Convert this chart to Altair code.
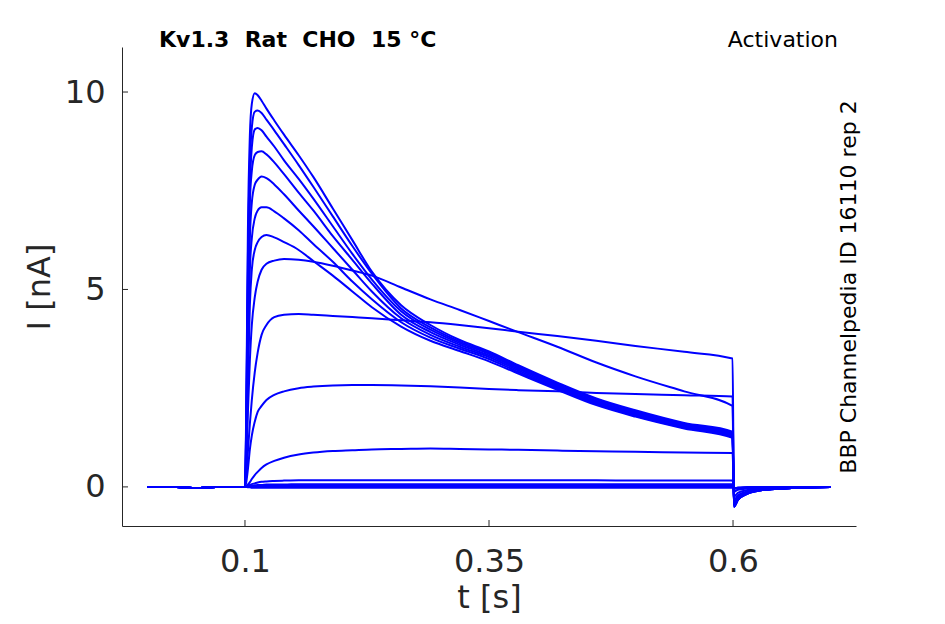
import altair as alt
import pandas as pd

# ---- data ----
t_s = [0.0, 0.03, 0.05, 0.07, 0.0995, 0.1, 0.1015, 0.103, 0.105, 0.107, 0.11,
       0.113, 0.117, 0.122, 0.13, 0.14, 0.155, 0.17, 0.19, 0.21, 0.23,
       0.26, 0.29, 0.32, 0.35, 0.38, 0.42, 0.46, 0.5, 0.55, 0.5995,
       0.601, 0.605, 0.615, 0.63, 0.66, 0.7]

pre = [0.0, 0.0, -0.03, 0.0, 0.0, 0.0]

trace01 = pre + [2.5, 6.5, 8.9, 9.7, 9.97, 9.92, 9.78, 9.58, 9.28, 8.92, 8.4, 7.85, 7.05, 6.25, 5.45,
                 4.6, 4.1, 3.72, 3.43, 3.08, 2.64, 2.24, 1.94, 1.62, 1.4, -0.5, -0.33, -0.17, -0.08, -0.03, 0.0]
trace02 = pre + [2.2, 5.8, 8.2, 9.1, 9.5, 9.53, 9.47, 9.3, 9.03, 8.68, 8.15, 7.6, 6.85, 6.1, 5.4,
                 4.52, 4.04, 3.68, 3.4, 3.05, 2.61, 2.21, 1.91, 1.6, 1.37, -0.5, -0.33, -0.17, -0.08, -0.03, 0.0]
trace03 = pre + [2.0, 5.3, 7.6, 8.6, 9.05, 9.09, 9.03, 8.87, 8.62, 8.27, 7.8, 7.3, 6.6, 5.9, 5.25,
                 4.45, 3.98, 3.64, 3.37, 3.02, 2.58, 2.18, 1.88, 1.57, 1.34, -0.5, -0.33, -0.17, -0.08, -0.03, 0.0]
trace04 = pre + [1.7, 4.6, 7.2, 8.0, 8.4, 8.48, 8.5, 8.42, 8.22, 7.92, 7.45, 7.0, 6.35, 5.75, 5.15,
                 4.36, 3.92, 3.6, 3.33, 2.99, 2.55, 2.15, 1.86, 1.55, 1.32, -0.48, -0.32, -0.16, -0.08, -0.03, 0.0]
trace05 = pre + [1.4, 3.9, 6.3, 7.2, 7.65, 7.78, 7.86, 7.82, 7.66, 7.41, 7.0, 6.6, 6.05, 5.5, 4.95,
                 4.27, 3.85, 3.55, 3.29, 2.95, 2.52, 2.12, 1.83, 1.52, 1.29, -0.45, -0.3, -0.15, -0.07, -0.03, 0.0]
trace06 = pre + [1.1, 3.2, 5.5, 6.3, 6.8, 7.0, 7.08, 7.08, 6.98, 6.8, 6.5, 6.15, 5.7, 5.2, 4.75,
                 4.17, 3.78, 3.5, 3.24, 2.91, 2.49, 2.1, 1.8, 1.5, 1.27, -0.43, -0.29, -0.14, -0.07, -0.03, 0.0]
trace07 = pre + [0.9, 2.6, 4.6, 5.5, 6.0, 6.2, 6.33, 6.38, 6.32, 6.2, 6.0, 5.72, 5.35, 4.95, 4.55,
                 4.06, 3.7, 3.44, 3.18, 2.87, 2.46, 2.07, 1.78, 1.48, 1.24, -0.42, -0.28, -0.14, -0.07, -0.03, 0.0]
trace08 = pre + [0.7, 1.9, 3.2, 4.1, 4.8, 5.2, 5.5, 5.65, 5.73, 5.77, 5.75, 5.7, 5.6, 5.48, 5.35,
                 5.05, 4.75, 4.48, 4.2, 3.92, 3.55, 3.15, 2.8, 2.42, 2.05, -0.38, -0.25, -0.13, -0.06, -0.02, 0.0]
trace09 = pre + [0.35, 0.9, 1.6, 2.2, 2.9, 3.4, 3.85, 4.1, 4.3, 4.36, 4.38, 4.36, 4.33, 4.3, 4.27,
                 4.22, 4.17, 4.1, 4.02, 3.93, 3.82, 3.7, 3.57, 3.42, 3.25, -0.33, -0.21, -0.11, -0.05, -0.02, 0.0]
trace10 = pre + [0.15, 0.45, 0.95, 1.3, 1.65, 1.9, 2.05, 2.2, 2.33, 2.42, 2.5, 2.54, 2.57, 2.58, 2.58,
                 2.57, 2.55, 2.52, 2.48, 2.45, 2.42, 2.38, 2.35, 2.32, 2.29, -0.24, -0.15, -0.08, -0.04, -0.01, 0.0]
trace11 = pre + [0.02, 0.06, 0.12, 0.2, 0.3, 0.38, 0.48, 0.57, 0.66, 0.74, 0.82, 0.87, 0.91, 0.93, 0.95,
                 0.96, 0.97, 0.96, 0.95, 0.94, 0.92, 0.9, 0.89, 0.87, 0.86, -0.12, -0.07, -0.04, -0.02, 0.0, 0.0]
trace12 = pre + [0.01, 0.03, 0.05, 0.07, 0.09, 0.11, 0.13, 0.14, 0.15, 0.16, 0.17, 0.17, 0.17, 0.17, 0.17,
                 0.17, 0.17, 0.17, 0.17, 0.17, 0.17, 0.17, 0.16, 0.16, 0.16, -0.05, -0.03, -0.01, 0.0, 0.0, 0.0]
trace13 = pre + [0.0, 0.01, 0.02, 0.03, 0.04, 0.05, 0.05, 0.06, 0.06, 0.06, 0.07, 0.07, 0.07, 0.07, 0.07,
                 0.07, 0.07, 0.07, 0.07, 0.07, 0.07, 0.07, 0.07, 0.07, 0.07, -0.04, -0.02, -0.01, 0.0, 0.0, 0.0]
trace14 = pre + [0.0, 0.0, 0.01, 0.01, 0.02, 0.02, 0.02, 0.02, 0.02, 0.02, 0.02, 0.02, 0.02, 0.02, 0.02,
                 0.02, 0.02, 0.02, 0.02, 0.02, 0.02, 0.02, 0.02, 0.02, 0.02, -0.03, -0.02, -0.01, 0.0, 0.0, 0.0]
trace15 = pre + [0.0, -0.01, -0.01, -0.02, -0.02, -0.02, -0.02, -0.02, -0.02, -0.02, -0.02, -0.02, -0.02, -0.02, -0.02,
                 -0.02, -0.02, -0.02, -0.02, -0.02, -0.02, -0.02, -0.02, -0.02, -0.02, -0.03, -0.02, -0.01, 0.0, 0.0, 0.0]

traces = [trace01, trace02, trace03, trace04, trace05, trace06, trace07, trace08,
          trace09, trace10, trace11, trace12, trace13, trace14, trace15]

x_ticks = [0.1, 0.35, 0.6]
y_ticks = [0, 5, 10]

NB = "\u00a0"
title_left = f"Kv1.3{NB} Rat{NB} CHO{NB} 15 °C"
title_right = "Activation"
side_label = "BBP Channelpedia ID 16110 rep 2"

# ---- build table ----
rows = []
for k, tr in enumerate(traces):
    for t, v in zip(t_s, tr):
        rows.append({"t": t, "I": v, "trace": k})
df = pd.DataFrame(rows)

W, H = 734, 479
FONT = "DejaVu Sans"
INK = "#262626"

xscale = alt.Scale(domain=[-0.026, 0.726], nice=False, zero=False)
yscale = alt.Scale(domain=[-0.99, 11.14], nice=False, zero=False)

lines = alt.Chart(df).mark_line(color="#0000FF", strokeWidth=2, interpolate="monotone").encode(
    x=alt.X("t:Q", scale=xscale,
            axis=alt.Axis(values=x_ticks, format="~g", title="t [s]", grid=False, ticks=False,
                          tickSize=0, labelPadding=20, labelFontSize=32, labelFont=FONT,
                          labelColor=INK, titleFontSize=32, titleFont=FONT, titleColor=INK,
                          titleFontWeight="normal", titleBaseline="alphabetic", titleY=81,
                          domainColor=INK, domainWidth=1)),
    y=alt.Y("I:Q", scale=yscale,
            axis=alt.Axis(values=y_ticks, format="d", title="I [nA]", grid=False, ticks=False,
                          tickSize=0, labelPadding=17, labelFontSize=32, labelFont=FONT,
                          labelColor=INK, titleFontSize=32, titleFont=FONT, titleColor=INK,
                          titleFontWeight="normal", titleBaseline="alphabetic", titleAngle=270,
                          titleX=-73, titleY=H / 2, titleAlign="center",
                          domainColor=INK, domainWidth=1)),
    detail="trace:N",
)

xt = alt.Chart(pd.DataFrame({"v": x_ticks})).mark_rule(color=INK, strokeWidth=1).encode(
    x=alt.X("v:Q", scale=xscale), y=alt.value(H), y2=alt.value(H - 6))
yt = alt.Chart(pd.DataFrame({"v": y_ticks})).mark_rule(color=INK, strokeWidth=1).encode(
    y=alt.Y("v:Q", scale=yscale), x=alt.value(0), x2=alt.value(6))

t1 = alt.Chart(pd.DataFrame({"s": [title_left]})).mark_text(
    font=FONT, fontSize=22, fontWeight="bold", color="black", align="left", baseline="alphabetic"
).encode(text="s:N", x=alt.value(37), y=alt.value(0))
t2 = alt.Chart(pd.DataFrame({"s": [title_right]})).mark_text(
    font=FONT, fontSize=22, color="black", align="right", baseline="alphabetic"
).encode(text="s:N", x=alt.value(716), y=alt.value(0))
t3 = alt.Chart(pd.DataFrame({"s": [side_label]})).mark_text(
    font=FONT, fontSize=22, color="black", align="center", baseline="middle", angle=270
).encode(text="s:N", x=alt.value(727), y=alt.value(240))

chart = alt.layer(lines, xt, yt, t1, t2, t3).properties(
    width=W, height=H,
    background="white",
    autosize=alt.AutoSizeParams(type="none"),
    padding={"left": 114, "top": 39, "right": 80, "bottom": 90},
).configure_view(strokeWidth=0, stroke=None)

chart.save("out.html", embed_options={"renderer": "svg", "actions": False})
